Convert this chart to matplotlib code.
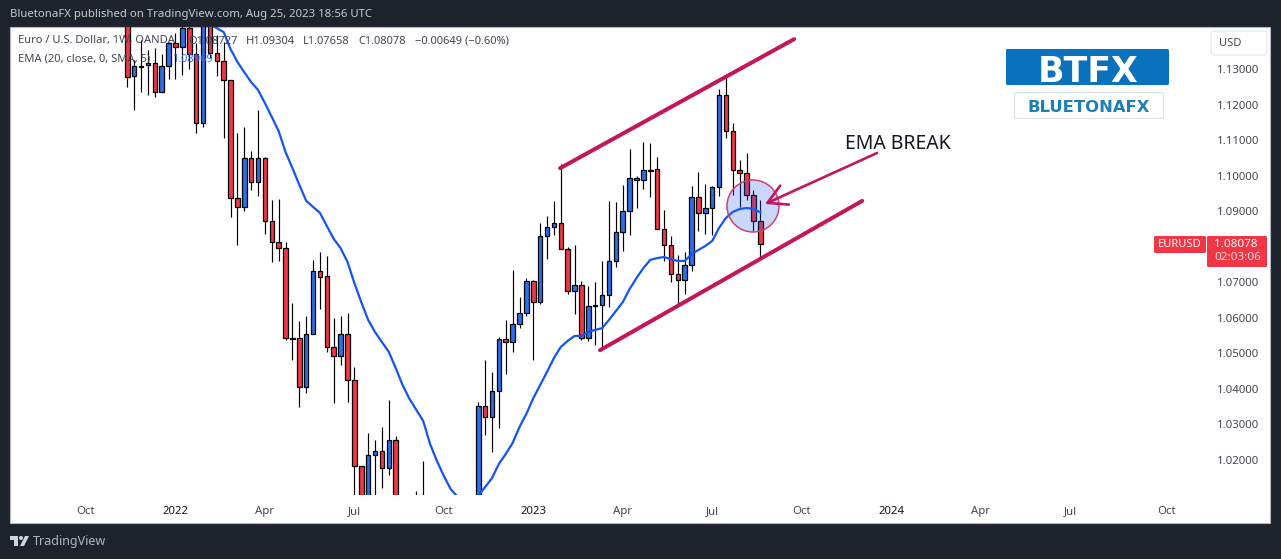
import numpy as np
import matplotlib
matplotlib.use('Agg')
import matplotlib.pyplot as plt
from matplotlib.patches import Rectangle, FancyBboxPatch, Circle, Polygon

plt.rcParams['font.family'] = ['Noto Sans', 'DejaVu Sans']

# weekly EURUSD candles, index 0 = 2021-11-15, last = 2023-08-21
opens = [1.1480, 1.1280, 1.1308, 1.1311, 1.1317, 1.1235, 1.1308, 1.1373, 1.1362, 1.1415,
         1.1342, 1.1148, 1.1450, 1.1345, 1.1322, 1.1269, 1.0937, 1.0912, 1.1050, 1.0982,
         1.1050, 1.0872, 1.0813, 1.0796, 1.0543, 1.0543, 1.0405, 1.0554, 1.0732, 1.0718,
         1.0518, 1.0493, 1.0554, 1.0425, 1.0183, 1.0040, 1.0214, 1.0225, 1.0178, 1.0256,
         0.9960, 0.9940, 0.9990, 0.9880, 0.9950, 0.9690, 0.9800, 0.9740, 0.9720, 0.9850,
         0.9960, 0.9960, 1.0352, 1.0321, 1.0394, 1.0540, 1.0532, 1.0583, 1.0614, 1.0704,
         1.0644, 1.0830, 1.0855, 1.0867, 1.0794, 1.0675, 1.0692, 1.0543, 1.0633, 1.0636,
         1.0664, 1.0760, 1.0841, 1.0900, 1.0993, 1.0988, 1.1016, 1.1019, 1.0850, 1.0805,
         1.0723, 1.0706, 1.0749, 1.0940, 1.0895, 1.0909, 1.0968, 1.1227, 1.1125, 1.1016,
         1.1007, 1.0945, 1.08727]
highs = [1.1500, 1.1325, 1.1381, 1.1353, 1.1359, 1.1342, 1.1376, 1.1401, 1.1440, 1.1425,
         1.1373, 1.1490, 1.1480, 1.1396, 1.1376, 1.1269, 1.1120, 1.1137, 1.1069, 1.1185,
         1.1052, 1.0931, 1.0934, 1.0813, 1.0642, 1.0591, 1.0605, 1.0763, 1.0785, 1.0774,
         1.0600, 1.0605, 1.0614, 1.0462, 1.0183, 1.0276, 1.0256, 1.0293, 1.0369, 1.0268,
         1.0050, 1.0090, 1.0113, 1.0197, 0.9990, 0.9850, 0.9880, 0.9840, 0.9980, 0.9980,
         0.9990, 1.0363, 1.0481, 1.0448, 1.0546, 1.0594, 1.0735, 1.0659, 1.0712, 1.0706,
         1.0867, 1.0886, 1.0929, 1.1033, 1.0799, 1.0805, 1.0704, 1.0690, 1.0701, 1.0760,
         1.0929, 1.0926, 1.0974, 1.1075, 1.0999, 1.1095, 1.1092, 1.1052, 1.0903, 1.0830,
         1.0777, 1.0785, 1.0971, 1.1010, 1.0976, 1.0971, 1.1244, 1.1277, 1.1148, 1.1044,
         1.1064, 1.0960, 1.09304]
lows = [1.1249, 1.1185, 1.1235, 1.1227, 1.1221, 1.1235, 1.1272, 1.1272, 1.1283, 1.1300,
        1.1120, 1.1137, 1.1331, 1.1280, 1.1106, 1.0884, 1.0805, 1.0900, 1.0960, 1.0943,
        1.0836, 1.0757, 1.0760, 1.0538, 1.0481, 1.0349, 1.0388, 1.0554, 1.0625, 1.0504,
        1.0360, 1.0467, 1.0363, 1.0000, 0.9950, 1.0000, 1.0080, 1.0121, 1.0158, 0.9950,
        0.9900, 0.9860, 0.9870, 0.9870, 0.9600, 0.9540, 0.9630, 0.9630, 0.9700, 0.9720,
        0.9800, 0.9940, 1.0270, 1.0223, 1.0290, 1.0442, 1.0504, 1.0571, 1.0605, 1.0481,
        1.0639, 1.0765, 1.0833, 1.0794, 1.0667, 1.0611, 1.0538, 1.0535, 1.0524, 1.0512,
        1.0630, 1.0743, 1.0788, 1.0833, 1.0909, 1.0962, 1.0940, 1.0850, 1.0760, 1.0701,
        1.0633, 1.0667, 1.0732, 1.0844, 1.0836, 1.0833, 1.0943, 1.1106, 1.0945, 1.0912,
        1.0931, 1.0844, 1.07658]
closes = [1.1278, 1.1308, 1.1306, 1.1317, 1.1235, 1.1308, 1.1373, 1.1362, 1.1415, 1.1342,
          1.1148, 1.1470, 1.1345, 1.1322, 1.1269, 1.0937, 1.0912, 1.1050, 1.0982, 1.1050,
          1.0872, 1.0813, 1.0796, 1.0543, 1.0541, 1.0405, 1.0554, 1.0732, 1.0715, 1.0518,
          1.0493, 1.0554, 1.0425, 1.0183, 1.0000, 1.0214, 1.0225, 1.0178, 1.0256, 1.0000,
          0.9940, 0.9990, 0.9880, 0.9950, 0.9690, 0.9800, 0.9740, 0.9720, 0.9850, 0.9960,
          0.9960, 1.0352, 1.0321, 1.0394, 1.0540, 1.0532, 1.0583, 1.0614, 1.0704, 1.0644,
          1.0830, 1.0855, 1.0867, 1.0794, 1.0675, 1.0692, 1.0543, 1.0633, 1.0635, 1.0664,
          1.0760, 1.0841, 1.0900, 1.0993, 1.0988, 1.1016, 1.1014, 1.0850, 1.0805, 1.0723,
          1.0706, 1.0749, 1.0940, 1.0895, 1.0909, 1.0968, 1.1227, 1.1125, 1.1016, 1.1007,
          1.0945, 1.0872, 1.08078]

# EMA 20, last value lines up with the last candle
ema = [1.1426, 1.1415, 1.1404, 1.1356, 1.1320, 1.1291, 1.1263, 1.1241, 1.1204, 1.1165,
       1.1125, 1.1066, 1.1021, 1.0974, 1.0929, 1.0912, 1.0895, 1.0858, 1.0822, 1.0796,
       1.0757, 1.0698, 1.0644, 1.0594, 1.0560, 1.0532, 1.0504, 1.0459, 1.0411, 1.0372,
       1.0341, 1.0310, 1.0245, 1.0197, 1.0155, 1.0118, 1.0096, 1.0073, 1.0059, 1.0099,
       1.0124, 1.0149, 1.0189, 1.0217, 1.0248, 1.0293, 1.0330, 1.0374, 1.0411, 1.0448,
       1.0487, 1.0518, 1.0535, 1.0549, 1.0549, 1.0560, 1.0566, 1.0571, 1.0594, 1.0619,
       1.0644, 1.0681, 1.0712, 1.0740, 1.0763, 1.0768, 1.0771, 1.0765, 1.0760, 1.0760,
       1.0779, 1.0791, 1.0802, 1.0816, 1.0853, 1.0881, 1.0898, 1.0906, 1.0909, 1.0906,
       1.08969]

# channel lines as (week index, price)
upper_channel = ([62.9, 96.9], [1.1021, 1.1384])
lower_channel = ([68.7, 106.8], [1.0509, 1.0929])

# 1.08 sits behind the price label so it is left out
y_ticks = [1.02, 1.03, 1.04, 1.05, 1.06, 1.07, 1.09, 1.10, 1.11, 1.12, 1.13]
x_ticks = [-6, 7, 20, 33, 46, 59, 72, 85, 98, 111, 124, 137, 151]
x_labels = ['Oct', '2022', 'Apr', 'Jul', 'Oct', '2023', 'Apr', 'Jul', 'Oct', '2024', 'Apr', 'Jul', 'Oct']

W, H = 1281, 559
DARK = '#1e222d'
BLUE = '#2971ea'
RED = '#f23645'
CRIMSON = '#c2185b'
TEXT = '#434651'

fig = plt.figure(figsize=(W / 100, H / 100), dpi=100, facecolor=DARK)

# background pane in pixel coords
bg = fig.add_axes([0, 0, 1, 1], zorder=0)
bg.set_xlim(0, W)
bg.set_ylim(H, 0)
bg.axis('off')
bg.add_patch(Rectangle((10, 27), 1260, 496, facecolor='white', edgecolor='#b2b5be', linewidth=0.8))

# price chart
left, right, top, bottom = 10, 1209, 27, 495
ax = fig.add_axes([left / W, 1 - bottom / H, (right - left) / W, (bottom - top) / H], zorder=1)
ax.patch.set_alpha(0)
for s in ax.spines.values():
    s.set_visible(False)

idx = np.arange(len(closes))
o = np.array(opens)
c = np.array(closes)
colors = [BLUE if b >= a else RED for a, b in zip(opens, closes)]

ax.vlines(idx, lows, highs, color='black', linewidth=0.85, zorder=2)
ax.bar(idx, np.abs(c - o), bottom=np.minimum(o, c), width=0.66, color=colors,
       edgecolor='black', linewidth=0.9, zorder=3)
ax.plot(np.arange(len(closes) - len(ema), len(closes)), ema, color='#1454f0', linewidth=1.6, zorder=4)

ax.plot(*upper_channel, color=CRIMSON, linewidth=2.9, solid_capstyle='round', zorder=5)
ax.plot(*lower_channel, color=CRIMSON, linewidth=2.9, solid_capstyle='round', zorder=5)

ax.set_xlim(-17.05, 157.2)
ax.set_ylim(1.01015, 1.14182)
ax.yaxis.tick_right()
ax.set_yticks(y_ticks)
ax.set_yticklabels(['%.5f' % v for v in y_ticks])
ax.set_xticks(x_ticks)
ax.set_xticklabels(x_labels)
ax.tick_params(axis='y', length=0, pad=6, labelsize=8.2, labelcolor=TEXT)
ax.tick_params(axis='x', length=0, pad=8, labelsize=8.2, labelcolor=TEXT)
for lab in ax.get_xticklabels():
    if lab.get_text().startswith('20'):
        lab.set_fontweight('bold')
        lab.set_color('#131722')

# everything drawn over the chart, pixel coords again
ov = fig.add_axes([0, 0, 1, 1], zorder=2)
ov.set_xlim(0, W)
ov.set_ylim(H, 0)
ov.axis('off')
ov.patch.set_alpha(0)

ov.add_patch(Circle((753, 206), 26, facecolor='#2962ff', alpha=0.25, edgecolor='none'))
ov.add_patch(Circle((753, 206), 26, facecolor='none', edgecolor='#d0406f', linewidth=1.1))
ov.annotate('', xy=(765, 204), xytext=(877, 153),
            arrowprops=dict(arrowstyle='->,head_length=0.9,head_width=0.5', color=CRIMSON,
                            linewidth=1.9, mutation_scale=15, shrinkA=0, shrinkB=0))
ov.text(845, 144, 'EMA BREAK', fontsize=14, fontweight='medium', color='#131722', va='center', ha='left')

# header and legend lines
ov.text(10, 14, 'BluetonaFX published on TradingView.com, Aug 25, 2023 18:56 UTC',
        fontsize=8.2, color='#c8cad2', va='center')
ov.text(18, 41, 'Euro / U.S. Dollar, 1W, OANDA', fontsize=8, color=TEXT, va='center')
for x_pos, part in zip([188, 246, 303, 358, 415],
                       ['O1.08727', 'H1.09304', 'L1.07658', 'C1.08078', '\u22120.00649 (\u22120.60%)']):
    ov.text(x_pos, 41, part, fontsize=8, color=TEXT, va='center')
ov.text(18, 59, 'EMA (20, close, 0, SMA, 5)', fontsize=8, color=TEXT, va='center')
ov.text(172, 59, '1.08969', fontsize=8, color='#2962ff', va='center', alpha=0.9)

# BTFX logo boxes
ov.add_patch(FancyBboxPatch((1006, 49), 163, 36, boxstyle='round,pad=0,rounding_size=1.5',
                            facecolor='#0a72bc', edgecolor='none'))
ov.text(1088, 68, 'BTFX', fontsize=25, fontweight='bold', color='white', ha='center', va='center_baseline',
        fontfamily='DejaVu Sans')
ov.add_patch(FancyBboxPatch((1014.5, 92.5), 149, 26, boxstyle='round,pad=0,rounding_size=1.5',
                            facecolor='white', edgecolor='#dcdfe6', linewidth=0.8))
ov.text(1089, 106, 'BLUETONAFX', fontsize=11.8, fontweight='bold', color='#1c7fb5', ha='center', va='center_baseline',
        fontfamily='DejaVu Sans')

# USD button
ov.add_patch(FancyBboxPatch((1211, 31), 56, 24, boxstyle='round,pad=0,rounding_size=3.5',
                            facecolor='white', edgecolor='#e6e8ef', linewidth=0.9))
ov.text(1230, 43.5, 'USD', fontsize=8, color=TEXT, ha='center', va='center')

# current price labels
ov.add_patch(FancyBboxPatch((1154, 236), 52, 17, boxstyle='round,pad=0,rounding_size=1.5',
                            facecolor=RED, edgecolor='none'))
ov.add_patch(FancyBboxPatch((1207, 236), 60, 31, boxstyle='round,pad=0,rounding_size=1.5',
                            facecolor=RED, edgecolor='none'))
ov.text(1180, 244.5, 'EURUSD', fontsize=8, color='white', ha='center', va='center')
ov.text(1236, 244.5, '1.08078', fontsize=8.4, color='white', ha='center', va='center')
ov.text(1238, 258, '02:03:06', fontsize=8.4, color='#fbd5d9', ha='center', va='center')

# TradingView mark in the footer
ov.add_patch(Polygon([(10, 536), (18, 536), (18, 546), (14, 546), (14, 540), (10, 540)],
                     facecolor='#d1d4dc', edgecolor='none'))
ov.add_patch(Circle((21, 538), 2, facecolor='#d1d4dc', edgecolor='none'))
ov.add_patch(Polygon([(25, 536), (29, 536), (24, 546), (20, 546)], facecolor='#d1d4dc', edgecolor='none'))
ov.text(33, 541.5, 'TradingView', fontsize=9, color='#b2b5be', va='center')

fig.savefig('out.png', dpi=100, facecolor=DARK)
plt.close(fig)
